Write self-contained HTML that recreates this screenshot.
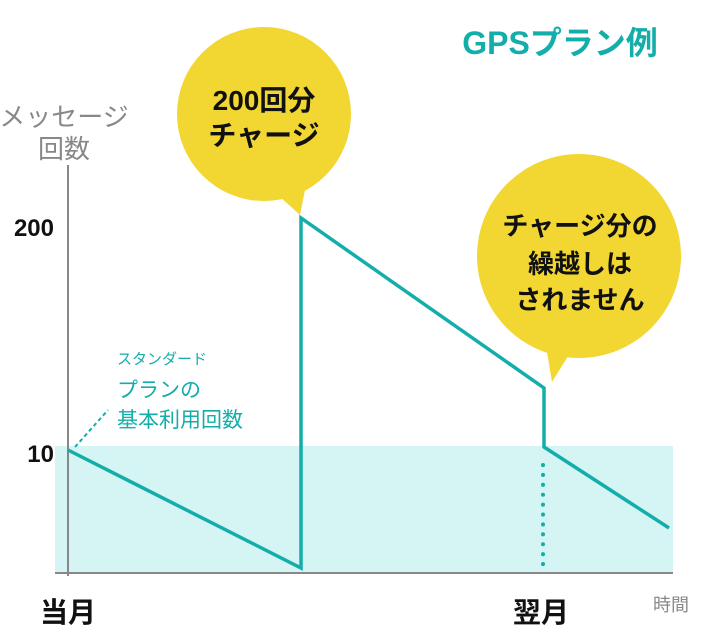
<!DOCTYPE html>
<html><head><meta charset="utf-8"><style>
body{margin:0;background:#fff}
text{font-family:"Liberation Sans","Noto Sans CJK JP",sans-serif}
</style></head><body>
<svg width="728" height="628" viewBox="0 0 728 628" xmlns="http://www.w3.org/2000/svg">
<rect x="55" y="446" width="618" height="127" fill="#d5f5f4"/>
<line x1="68" y1="165" x2="68" y2="576" stroke="#888" stroke-width="2"/>
<line x1="55" y1="573" x2="673" y2="573" stroke="#888" stroke-width="2"/>
<line x1="75" y1="447" x2="108" y2="410" stroke="#13aeaa" stroke-width="2" stroke-dasharray="4,3"/>
<line x1="543" y1="465" x2="543" y2="568" stroke="#13aeaa" stroke-width="4" stroke-linecap="round" stroke-dasharray="0.1,9.8"/>
<polyline points="68,450 301,568 301,218 544,388 544,447 669,528" fill="none" stroke="#13aeaa" stroke-width="3.5" stroke-linejoin="miter"/>
<circle cx="264" cy="114" r="87" fill="#f2d733"/>
<polygon points="278,195 306,185 300,215" fill="#f2d733"/>
<circle cx="579" cy="256" r="102" fill="#f2d733"/>
<polygon points="545,340 578,340 552,382" fill="#f2d733"/>
<g font-weight="bold" fill="#111" text-anchor="middle">
<text x="264" y="110" font-size="28">200回分</text>
<text x="264" y="145" font-size="28">チャージ</text>
<text x="580" y="235" font-size="26">チャージ分の</text>
<text x="580" y="273" font-size="26">繰越しは</text>
<text x="580" y="309" font-size="26">されません</text>
</g>
<text x="560" y="54" font-size="32" font-weight="bold" fill="#13aeaa" text-anchor="middle">GPSプラン例</text>
<text x="64" y="126" font-size="26" fill="#888" text-anchor="middle">メッセージ</text>
<text x="64" y="158" font-size="26" fill="#888" text-anchor="middle">回数</text>
<text x="54" y="236" font-size="24" font-weight="bold" fill="#111" text-anchor="end">200</text>
<text x="54" y="462" font-size="24" font-weight="bold" fill="#111" text-anchor="end">10</text>
<text x="68" y="622" font-size="28" font-weight="bold" fill="#111" text-anchor="middle">当月</text>
<text x="541" y="622" font-size="28" font-weight="bold" fill="#111" text-anchor="middle">翌月</text>
<text x="671" y="611" font-size="18" fill="#888" text-anchor="middle">時間</text>
<g fill="#13aeaa">
<text x="117" y="364" font-size="15">スタンダード</text>
<text x="117" y="397" font-size="21">プランの</text>
<text x="117" y="427" font-size="21">基本利用回数</text>
</g>
</svg>
</body></html>
